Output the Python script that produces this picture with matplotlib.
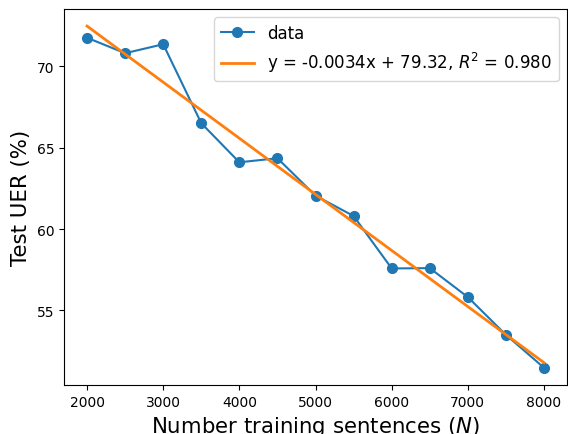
import numpy as np
import matplotlib
matplotlib.use("Agg")
import matplotlib.pyplot as plt

n_sentences = [2000, 2500, 3000, 3500, 4000, 4500, 5000, 5500, 6000, 6500, 7000, 7500, 8000]
test_uer = [71.75, 70.8, 71.35, 66.5, 64.1, 64.35, 62.05, 60.8, 57.58, 57.6, 55.82, 53.5, 51.48]

x = np.array(n_sentences)
y = np.array(test_uer)
slope, intercept = np.polyfit(x, y, 1)
fit_label = "y = -0.0034x + 79.32, $R^2$ = 0.980"

fig = plt.figure(figsize=(5.68, 4.35), dpi=100)
ax = fig.add_axes([0.113, 0.113, 0.885, 0.864])

ax.plot(x, y, "-o", color="#1f77b4", markersize=7, label="data")
ax.plot(x, slope * x + intercept, color="#ff7f0e", linewidth=2, label=fit_label)

ax.set_xlabel("Number training sentences ($N$)", fontsize=15.3)
ax.set_ylabel("Test UER (%)", fontsize=15.3)
ax.set_yticks([55, 60, 65, 70])
ax.legend(fontsize=12)

fig.savefig("out.png", dpi=100)
